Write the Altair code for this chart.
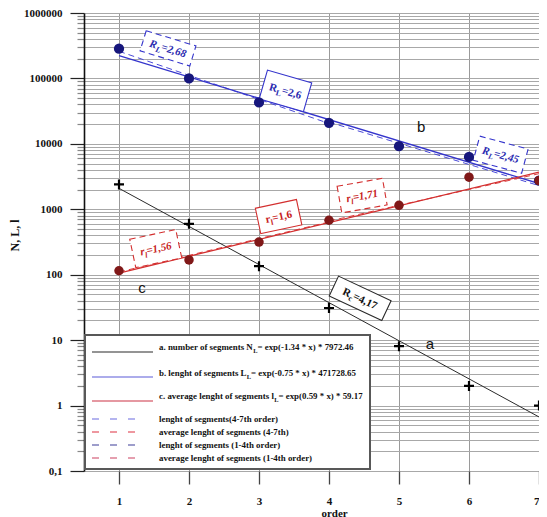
import json
import altair as alt
import pandas as pd

# ---------------- data ----------------
orders = [1, 2, 3, 4, 5, 6, 7]
n_segments = [2400, 600, 135, 31, 8.1, 2.0, 1.0]          # a. number of segments (+)
len_segments = [285000, 100000, 43000, 21000, 9200, 6300, 2750]  # b. length of segments
avg_len = [115, 168, 315, 680, 1150, 3100, 2750]          # c. average length

# fitted lines, read at their two ends (x = 1 and x = 7)
fit_x = [1, 7]
fit_a = [2090, 0.67]
fit_b = [222800, 2474]
fit_c = [106, 3692]

# partial (dashed) fits
dash_14_x = [1, 4]
dash_47_x = [4, 7]
dash_b14 = [260000, 20500]
dash_b47 = [21500, 2300]
dash_c14 = [110, 640]
dash_c47 = [660, 3500]

y_decades = [0.1, 1, 10, 100, 1000, 10000, 100000, 1000000]
y_decade_labels = ["0,1", "1", "10", "100", "1000", "10000", "100000", "1000000"]
y_minor_mult = [1, 2, 3, 4, 5, 6, 7, 8, 9]

# ratio annotations
ann_x = [1.70, 3.378, 6.453, 1.525, 3.28, 4.473, 4.445]
ann_y = [288000, 64600, 6830, 251, 774, 1618, 43.5]
ann_main = ["R", "R", "R", "r", "r", "r", "R"]
ann_sub = ["L", "L", "L", "l", "l", "l", "c"]
ann_rest = ["=2,68", "=2,6", "=2,45", "=1,56", "=1,6", "=1,71", "=4,17"]
ann_angle = [17, 16, 15, 348, 348, 350, 25]
ann_kind = ["b", "b", "b", "c", "c", "c", "a"]
ann_dashed = [True, False, True, True, False, True, False]
ann_box_w = [52, 46, 50, 47, 42, 46, 58]
ann_box_h = [21, 30, 25, 29, 26, 27, 22]

letters = ["a", "b", "c"]
letter_x = [5.44, 5.315, 1.328]
letter_y = [8.65, 18250, 62]

legend_solid = [
    ("a. number of segments N", "L", "= exp(-1.34 * x) * 7972.46"),
    ("b. lenght of segments L", "L", "= exp(-0.75 * x) * 471728.65"),
    ("c. average lenght of segments l", "L", "= exp(0.59 * x) * 59.17"),
]
legend_dashed = [
    "lenght of segments(4-7th order)",
    "average lenght of segments (4-7th)",
    "lenght of segments (1-4th order)",
    "average lenght of segments (1-4th order)",
]

# ---------------- styling ----------------
SERIF = "Liberation Serif"
COL = {"a": "#2a2a2a", "b": "#3434cc", "c": "#d32f2f"}
TXT = {"a": "#111111", "b": "#2b2bb0", "c": "#c62020"}
W, H = 455, 458

BOLD = {"R": 722, "L": 667, "N": 722, "r": 444, "l": 278, "c": 444, "=": 570,
        ",": 250, ".": 250, " ": 250, "a": 500, "b": 556, "d": 556, "e": 444,
        "f": 333, "g": 500, "h": 556, "i": 278, "m": 833, "n": 556, "o": 500,
        "p": 556, "s": 389, "t": 333, "u": 556, "v": 500, "x": 500, "y": 500,
        "(": 333, ")": 333, "-": 333, "*": 500}
BOLDIT = dict(BOLD, R=667, L=611, r=389)


def tw(s, size, table):
    return sum(table.get(ch, 500) for ch in s) / 1000.0 * size


xs = alt.Scale(domain=[0.5, 7], nice=False, zero=False)
ys = alt.Scale(type="log", domain=[y_decades[0], y_decades[-1]], nice=False)

y_ticks = [m * d for d in y_decades[:-1] for m in y_minor_mult] + [y_decades[-1]]
dec_js = json.dumps(y_decades)
lab_js = json.dumps(y_decade_labels)
is_dec = f"indexof({dec_js}, datum.value) >= 0"

x_axis = alt.Axis(values=orders, format="d", grid=True, gridColor="#9a9a9a",
                  gridWidth=1, domain=False, tickSize=13, tickColor="#444444",
                  tickWidth=1.3, labelFont=SERIF, labelFontWeight="bold",
                  labelFontSize=11, labelColor="#111", labelPadding=11,
                  title="order", titleFont=SERIF, titleFontWeight="bold",
                  titleFontSize=11, titleColor="#111", titleX=250, titleY=45,
                  titleBaseline="alphabetic")
y_axis = alt.Axis(values=y_ticks,
                  labelExpr=f"{is_dec} ? {lab_js}[indexof({dec_js}, datum.value)] : ''",
                  tickSize={"condition": {"test": is_dec, "value": 14}, "value": 7},
                  tickColor={"condition": {"test": is_dec, "value": "#222222"}, "value": "#888888"},
                  tickWidth=1.2, grid=True, gridColor="#a8a8a8", gridWidth=1,
                  domainColor="#111111", domainWidth=1.6, labelFont=SERIF,
                  labelFontWeight="bold", labelFontSize=11, labelColor="#111",
                  labelPadding=8, labelOverlap=False, labelFlush=False,
                  title="N, L, l", titleFont=SERIF, titleFontWeight="bold",
                  titleFontSize=12, titleColor="#111", titleX=-70, titleY=222,
                  titleAngle=270, titleBaseline="middle", titleAlign="center")


def X(f="x"):
    return alt.X(f"{f}:Q", scale=xs, axis=x_axis)


def Y(f="y"):
    return alt.Y(f"{f}:Q", scale=ys, axis=y_axis)


layers = []


def line(xv, yv, color, width=1.1, dash=None):
    df = pd.DataFrame({"x": xv, "y": yv})
    kw = dict(color=color, strokeWidth=width)
    if dash:
        kw["strokeDash"] = dash
    return alt.Chart(df).mark_line(**kw).encode(x=X(), y=Y())


# dashed partial fits
layers.append(line(dash_14_x, dash_b14, "#4a4ad8", 1.0, [6, 4]))
layers.append(line(dash_47_x, dash_b47, "#4a4ad8", 1.0, [6, 4]))
layers.append(line(dash_14_x, dash_c14, "#dd4040", 1.0, [6, 4]))
layers.append(line(dash_47_x, dash_c47, "#dd4040", 1.0, [6, 4]))
# solid fits
layers.append(line(fit_x, fit_a, COL["a"], 1.0))
layers.append(line(fit_x, fit_b, COL["b"], 1.3))
layers.append(line(fit_x, fit_c, COL["c"], 1.3))

# ratio annotation boxes and texts
for i in range(len(ann_x)):
    d = pd.DataFrame({"x": [ann_x[i]], "y": [ann_y[i]]})
    k = ann_kind[i]
    w2, h2 = ann_box_w[i] / 2, ann_box_h[i] / 2
    path = f"M{-w2},{-h2}L{w2},{-h2}L{w2},{h2}L{-w2},{h2}Z"
    bkw = dict(shape=path, size=4, filled=True, fill="white", stroke=COL[k],
               strokeWidth=1.1, opacity=1, angle=ann_angle[i])
    if ann_dashed[i]:
        bkw["strokeDash"] = [6, 4]
    layers.append(alt.Chart(d).mark_point(**bkw).encode(x=X(), y=Y()))

    fs = 11
    italic = ann_dashed[i]
    table = BOLDIT if italic else BOLD
    wm = tw(ann_main[i], fs, table)
    ws = tw(ann_sub[i], fs * 0.72, table)
    wr = tw(ann_rest[i], fs, table)
    tot = wm + ws + wr
    base = dict(font=SERIF, fontWeight="bold", fontStyle="italic" if italic else "normal",
                color=TXT[k], align="left", baseline="alphabetic", angle=ann_angle[i])
    x0 = -tot / 2
    for txt, dx, dy, size in [(ann_main[i], x0, 3.8, fs),
                              (ann_sub[i], x0 + wm, 6.8, fs * 0.72),
                              (ann_rest[i], x0 + wm + ws, 3.8, fs)]:
        layers.append(alt.Chart(d).mark_text(text=txt, dx=dx, dy=dy, fontSize=size, **base)
                      .encode(x=X(), y=Y()))

# data points
pts_n = pd.DataFrame({"x": orders, "y": n_segments})
pts_l = pd.DataFrame({"x": orders, "y": len_segments})
pts_c = pd.DataFrame({"x": orders, "y": avg_len})
layers.append(alt.Chart(pts_l).mark_point(shape="circle", filled=True, color="#16167c",
                                          size=105, opacity=1, clip=True).encode(x=X(), y=Y()))
layers.append(alt.Chart(pts_c).mark_point(shape="circle", filled=True, color="#801818",
                                          size=90, opacity=1, clip=True).encode(x=X(), y=Y()))
layers.append(alt.Chart(pts_n).mark_point(shape="M-1,0L1,0M0,-1L0,1", filled=False,
                                          color="black", strokeWidth=2.2, size=100,
                                          opacity=1, clip=True).encode(x=X(), y=Y()))

# curve letters
let_df = pd.DataFrame({"x": letter_x, "y": letter_y, "t": letters})
layers.append(alt.Chart(let_df).mark_text(font="Liberation Sans", fontSize=15, color="#111")
              .encode(x=X(), y=Y(), text="t:N"))

# ---------------- legend box (drawn by hand) ----------------
one = pd.DataFrame({"k": [0]})
layers.append(alt.Chart(one).mark_rect(fill="white", stroke="#585858", strokeWidth=2)
              .encode(x=alt.value(1), x2=alt.value(286), y=alt.value(322), y2=alt.value(456)))

LFS = 8.9
text_x = 75
solid_cols = [COL["a"], "#5a5ad8", "#cc3344"]
solid_line_y = [339, 364, 388]
solid_text_y = [334, 360, 383]
for i, (pre, sub, post) in enumerate(legend_solid):
    layers.append(alt.Chart(one).mark_rule(color=solid_cols[i], strokeWidth=1.2)
                  .encode(x=alt.value(8), x2=alt.value(69), y=alt.value(solid_line_y[i])))
    wp = tw(pre, LFS, BOLD)
    ws = tw(sub, LFS * 0.72, BOLD)
    for txt, xx, yy, size in [(pre, text_x, solid_text_y[i] + 3, LFS),
                              (sub, text_x + wp, solid_text_y[i] + 5.5, LFS * 0.72),
                              (post, text_x + wp + ws, solid_text_y[i] + 3, LFS)]:
        layers.append(alt.Chart(one).mark_text(text=txt, font=SERIF, fontWeight="bold",
                                               fontSize=size, color="#111", align="left",
                                               baseline="alphabetic")
                      .encode(x=alt.value(xx), y=alt.value(yy)))

dashed_cols = ["#6a6ae0", "#dd3040", "#3c3c98", "#cc4060"]
for i, lab in enumerate(legend_dashed):
    yy = 406 + 13 * i
    layers.append(alt.Chart(one).mark_rule(color=dashed_cols[i], strokeWidth=1.2,
                                           strokeDash=[7, 11])
                  .encode(x=alt.value(8), x2=alt.value(62), y=alt.value(yy)))
    layers.append(alt.Chart(one).mark_text(text=lab, font=SERIF, fontWeight="bold",
                                           fontSize=LFS, color="#111", align="left",
                                           baseline="alphabetic")
                  .encode(x=alt.value(text_x), y=alt.value(yy + 3)))

# width kept inside the 547px window (8px page margin) so the page is not shrunk
chart = alt.layer(*layers).properties(
    width=W, height=H,
    autosize=alt.AutoSizeParams(type="none"),
    padding={"left": 76, "top": 5, "right": 0, "bottom": 46},
    background="white",
).configure_view(strokeWidth=0)

chart.save("out.html", embed_options={"renderer": "svg", "actions": False})
